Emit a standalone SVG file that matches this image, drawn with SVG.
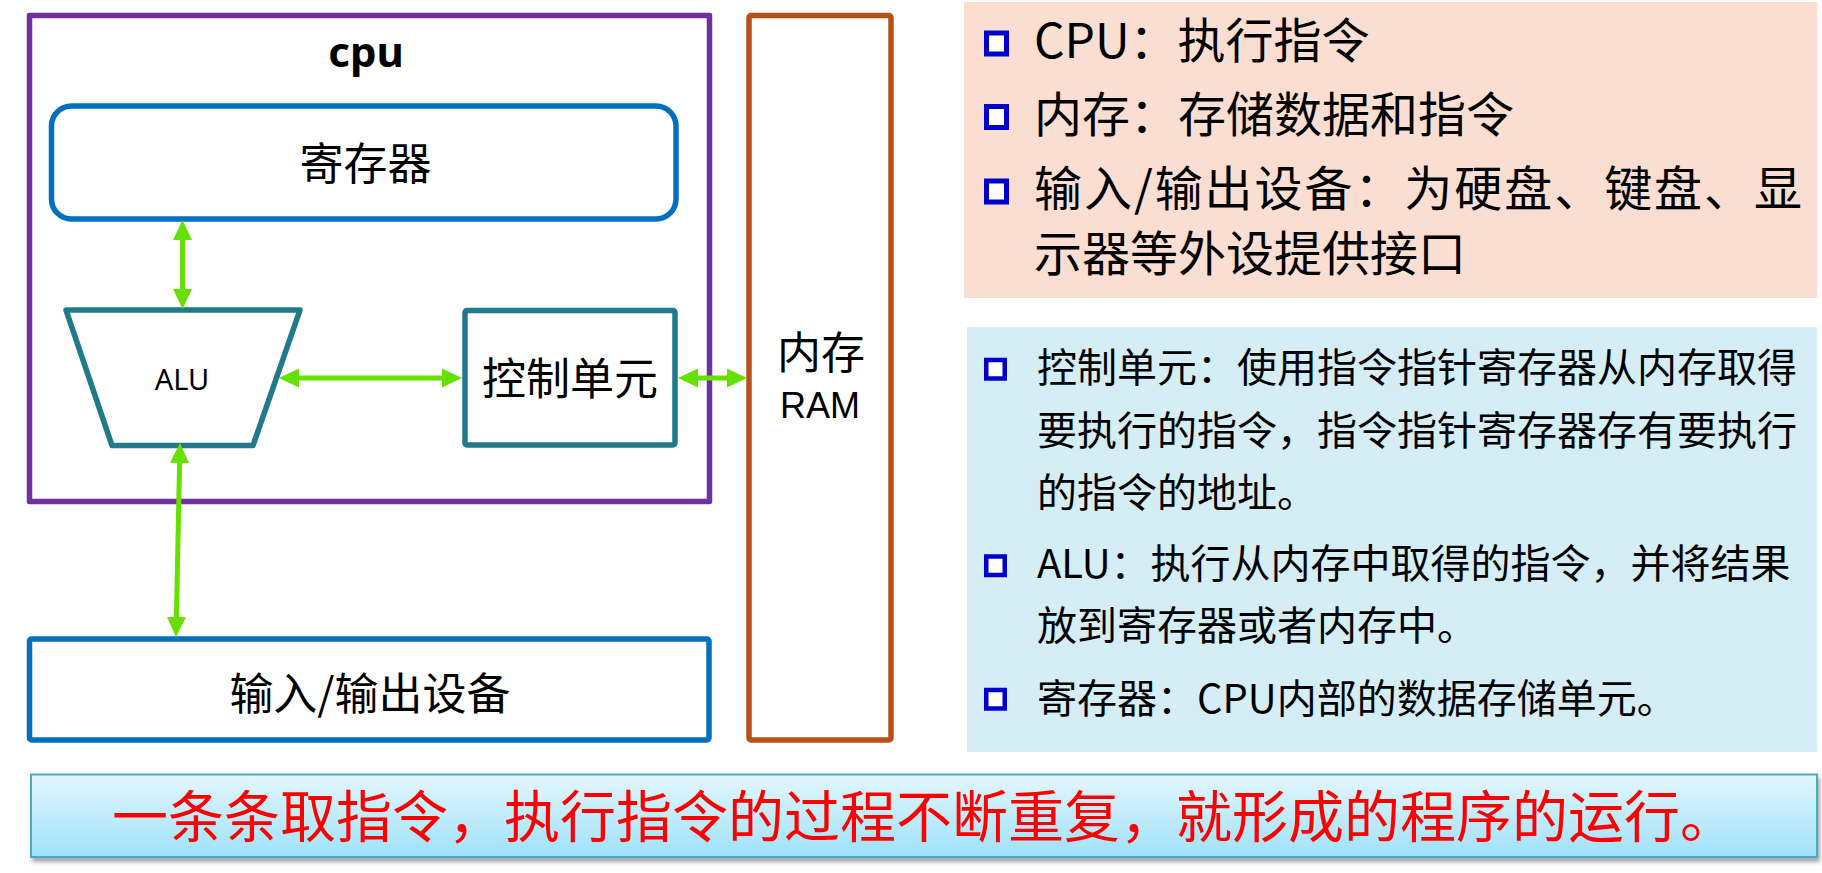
<svg xmlns="http://www.w3.org/2000/svg" width="1822" height="873" viewBox="0 0 1822 873">
  <defs>
    <style>
      .t { font-family: 'Noto Sans CJK SC', 'Noto Sans', sans-serif; fill: #000; }
      .lat { font-family: 'Noto Sans', 'Liberation Sans', sans-serif; fill: #000; text-anchor: middle; }
      .ram { font-family: 'Liberation Sans', Arial, sans-serif; fill: #000; text-anchor: middle; font-size: 36px; }
      .lbl { font-size: 44px; text-anchor: middle; }
      .pk { font-size: 48px; }
      .bl { font-size: 40px; }
      .box { fill: #fff; stroke-width: 5.5; stroke-linejoin: round; }
      .conn { stroke: #66E000; stroke-width: 5; fill: none; marker-start: url(#ah); marker-end: url(#ah); }
      .bul { fill: #fff; stroke: #0000CC; }
    </style>
    <marker id="ah" viewBox="0 0 20 19" refX="6" refY="9.5" markerWidth="20" markerHeight="19" markerUnits="userSpaceOnUse" orient="auto-start-reverse">
      <path d="M0,0 L20,9.5 L0,19 Z" fill="#66E000"/>
    </marker>
    <linearGradient id="bg" x1="0" y1="0" x2="0" y2="1">
      <stop offset="0" stop-color="#E4F7FD"/>
      <stop offset="1" stop-color="#9FE1FA"/>
    </linearGradient>
    <filter id="sh" x="-2%" y="-20%" width="104%" height="150%">
      <feDropShadow dx="2" dy="4" stdDeviation="2" flood-color="#000" flood-opacity="0.35"/>
    </filter>
  </defs>

  <g id="cpu">
    <rect class="box" x="29.5" y="15.5" width="680" height="486" stroke="#7030A0"/>
    <text class="lat" x="366" y="67" style="font-size:42px;font-weight:bold">cpu</text>
  </g>

  <g id="register">
    <rect class="box" x="51.5" y="106" width="624.5" height="113" rx="20" stroke="#0070C0"/>
    <text class="t lbl" x="365.5" y="180">寄存器</text>
  </g>

  <g id="alu">
    <polygon class="box" points="66,310 300,310 253,445.5 112,445.5" stroke="#217A8C"/>
    <text class="lat" x="182" y="390" style="font-size:29px">ALU</text>
  </g>

  <g id="control">
    <rect class="box" x="465" y="310.5" width="210" height="134.5" rx="2" stroke="#217A8C"/>
    <text class="t lbl" x="570" y="395">控制单元</text>
  </g>

  <g id="ram">
    <rect class="box" x="749" y="15.5" width="142" height="724.5" rx="2" stroke="#B9501A"/>
    <text class="t lbl" x="821" y="369">内存</text>
    <text class="ram" x="820" y="418">RAM</text>
  </g>

  <g id="io">
    <rect class="box" x="29.5" y="639" width="679.5" height="101" rx="2" stroke="#0070C0"/>
    <text class="t lbl" x="370" y="710">输入/输出设备</text>
  </g>

  <g id="connectors">
    <line class="conn" x1="182.5" y1="234" x2="182.5" y2="295"/>
    <line class="conn" x1="293" y1="378" x2="448" y2="378"/>
    <line class="conn" x1="692" y1="378" x2="733" y2="378"/>
    <line class="conn" x1="179.7" y1="457" x2="176.3" y2="623"/>
  </g>

  <g id="panel-top">
    <rect x="964" y="2" width="853" height="296" fill="#FADED2"/>
    <rect class="bul" x="986.5" y="33" width="20" height="21" stroke-width="5"/>
    <rect class="bul" x="986.5" y="106.5" width="20" height="21" stroke-width="5"/>
    <rect class="bul" x="986.5" y="181" width="20" height="21" stroke-width="5"/>
    <text class="t pk" x="1034" y="58">CPU：执行指令</text>
    <text class="t pk" x="1034" y="132">内存：存储数据和指令</text>
    <text class="t pk" x="1034" y="206" textLength="768" lengthAdjust="spacing">输入/输出设备：为硬盘、键盘、显</text>
    <text class="t pk" x="1034" y="271">示器等外设提供接口</text>
  </g>

  <g id="panel-bottom">
    <rect x="967" y="327" width="850" height="425" fill="#D5EDF4"/>
    <rect class="bul" x="986.25" y="360" width="18.5" height="18.5" stroke-width="4.5"/>
    <rect class="bul" x="986.25" y="556.5" width="18.5" height="18.5" stroke-width="4.5"/>
    <rect class="bul" x="986.25" y="690" width="18.5" height="18.5" stroke-width="4.5"/>
    <text class="t bl" x="1037" y="382">控制单元：使用指令指针寄存器从内存取得</text>
    <text class="t bl" x="1037" y="445">要执行的指令，指令指针寄存器存有要执行</text>
    <text class="t bl" x="1037" y="507">的指令的地址。</text>
    <text class="t bl" x="1037" y="578">ALU：执行从内存中取得的指令，并将结果</text>
    <text class="t bl" x="1037" y="640">放到寄存器或者内存中。</text>
    <text class="t bl" x="1037" y="713">寄存器：CPU内部的数据存储单元。</text>
  </g>

  <g id="banner">
    <rect x="31" y="774.5" width="1786" height="82.5" fill="url(#bg)" stroke="#4AACC6" stroke-width="2" filter="url(#sh)"/>
    <text class="t" x="112" y="837" font-size="56" style="fill:#FF0000">一条条取指令，执行指令的过程不断重复，就形成的程序的运行。</text>
  </g>
</svg>
